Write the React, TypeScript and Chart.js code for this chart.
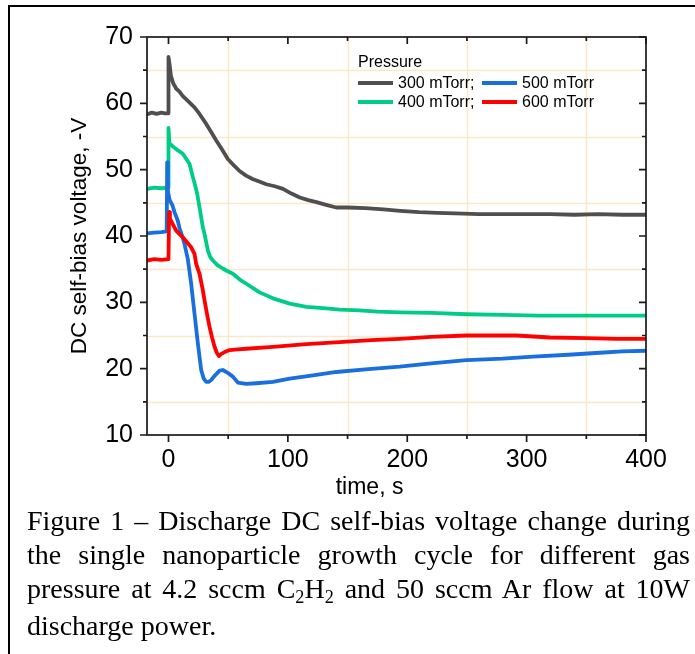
import React, { useEffect, useRef } from "react";
import { Chart, registerables } from "chart.js";

Chart.register(...registerables);

const seriesLabels = ["300 mTorr;", "400 mTorr;", "500 mTorr", "600 mTorr"];
const seriesColors = ["#4f4f4f", "#00cc88", "#1a6fdf", "#ff0000"];

const t300 = [-18, -14, -10, -6, -3, -0.3, 0, 0.8, 2, 4, 6.5, 9, 12, 16, 21.8, 26, 31.6, 36, 40, 45, 49.7, 55, 59.5, 65, 70.4, 76, 81.9, 89, 95.9, 103, 110, 117, 124, 132, 140.6, 150, 165, 180, 194, 210, 225, 240, 260, 280, 300, 320, 340, 360, 380, 400];
const v300 = [58.3, 58.6, 58.4, 58.6, 58.5, 58.5, 67.0, 66.0, 64.2, 63.0, 62.2, 61.8, 61.1, 60.4, 59.4, 58.4, 56.9, 55.6, 54.4, 53.0, 51.6, 50.6, 49.8, 49.1, 48.6, 48.2, 47.8, 47.5, 47.1, 46.4, 45.8, 45.4, 45.1, 44.7, 44.3, 44.3, 44.2, 44.0, 43.8, 43.6, 43.5, 43.4, 43.3, 43.3, 43.3, 43.3, 43.2, 43.3, 43.2, 43.2];

const t400 = [-18, -12, -6, -0.3, 0, 0.8, 3, 6.4, 12, 17.6, 20.4, 21.8, 24, 26, 28.8, 30.2, 33, 35, 37.2, 41, 45.5, 48.4, 53.9, 60, 65.2, 76.3, 87.5, 101.5, 115.5, 132.2, 143.4, 160, 175, 193.7, 220, 249.6, 280, 310, 340, 370, 400];
const v400 = [47.1, 47.3, 47.2, 47.3, 56.3, 54.0, 53.6, 53.1, 52.4, 50.9, 48.9, 48.0, 46.4, 44.3, 41.3, 40.3, 37.8, 36.8, 36.3, 35.6, 35.1, 34.8, 34.3, 33.4, 32.8, 31.5, 30.6, 29.8, 29.3, 29.1, 28.9, 28.8, 28.6, 28.5, 28.4, 28.2, 28.1, 28.0, 28.0, 28.0, 28.0];

const t500 = [-18, -12, -6, -1.5, -1.1, -0.5, 0.8, 3.6, 5, 7.8, 9.2, 11.5, 13.4, 16.2, 19, 21.8, 24.6, 27.4, 29.5, 31.6, 33.5, 35.8, 39, 42.8, 45.5, 48.4, 51, 53.9, 58.1, 65, 73.5, 87.5, 101.5, 121, 140.6, 165, 193.7, 220, 249.6, 280, 305.5, 335, 361.4, 380, 400];
const v500 = [40.4, 40.5, 40.6, 40.7, 51.1, 46.8, 45.5, 44.5, 43.6, 42.3, 41.2, 40.0, 38.8, 36.5, 32.8, 28.3, 23.8, 19.8, 18.5, 18.0, 18.0, 18.3, 19.0, 19.7, 19.8, 19.5, 19.2, 18.8, 17.9, 17.7, 17.8, 18.0, 18.5, 19.0, 19.5, 19.9, 20.3, 20.8, 21.3, 21.5, 21.8, 22.1, 22.4, 22.6, 22.7];

const t600 = [-18, -12, -6, 0, 0.5, 1.2, 3.6, 6.4, 12, 19, 21.8, 23.2, 26, 28.8, 30.2, 32.3, 34.4, 36.5, 38.6, 40.5, 42.2, 44, 47, 51.2, 58, 65.2, 87.5, 115.5, 143.4, 170, 193.7, 220, 249.6, 270, 291.6, 319.5, 350, 375, 400];
const v600 = [36.3, 36.5, 36.4, 36.5, 43.6, 42.6, 41.8, 40.8, 39.8, 38.3, 37.3, 35.8, 34.3, 31.8, 30.3, 28.2, 26.3, 24.7, 23.3, 22.4, 21.9, 22.2, 22.5, 22.8, 22.9, 23.0, 23.3, 23.7, 24.0, 24.3, 24.5, 24.8, 25.0, 25.0, 25.0, 24.7, 24.6, 24.5, 24.5];

const xMajorTicks = [0, 100, 200, 300, 400];
const xMinorTicks = [50, 150, 250, 350];
const yMajorTicks = [10, 20, 30, 40, 50, 60, 70];
const yMinorTicks = [15, 25, 35, 45, 55, 65];
const xRange = [-18, 400];
const yRange = [10, 70];
const xTitle = "time, s";
const yTitle = "DC self-bias voltage, -V";
const legendTitle = "Pressure";

const SANS = 'Arial, "Liberation Sans", sans-serif';
const GRID = "#fbe8c8";

const pts = (t: number[], v: number[]) => t.map((x, i) => ({ x, y: v[i] }));

const framePlugin = {
  id: "frameTicksLegend",
  beforeDatasetsDraw(chart: any) {
    const { ctx, chartArea: a, scales } = chart;
    const x = scales.x, y = scales.y;
    ctx.save();
    ctx.strokeStyle = GRID;
    ctx.lineWidth = 1.5;
    ctx.beginPath();
    for (const v of xMinorTicks) {
      const px = Math.round(x.getPixelForValue(v)) + 0.5;
      ctx.moveTo(px, a.top);
      ctx.lineTo(px, a.bottom);
    }
    for (const v of yMinorTicks) {
      const py = Math.round(y.getPixelForValue(v)) + 0.5;
      ctx.moveTo(a.left, py);
      ctx.lineTo(a.right, py);
    }
    ctx.stroke();
    ctx.restore();
  },
  afterDatasetsDraw(chart: any) {
    const { ctx, chartArea: a, scales } = chart;
    const x = scales.x, y = scales.y;
    ctx.save();
    ctx.strokeStyle = "#1a1a1a";
    ctx.lineWidth = 1.7;
    ctx.strokeRect(a.left, a.top, a.right - a.left, a.bottom - a.top);
    ctx.beginPath();
    const MAJ = 7, MIN = 4;
    for (const v of xMajorTicks) {
      const px = x.getPixelForValue(v);
      ctx.moveTo(px, a.bottom); ctx.lineTo(px, a.bottom + MAJ);
      ctx.moveTo(px, a.top); ctx.lineTo(px, a.top + MAJ);
    }
    for (const v of xMinorTicks) {
      const px = x.getPixelForValue(v);
      ctx.moveTo(px, a.bottom); ctx.lineTo(px, a.bottom + MIN);
      ctx.moveTo(px, a.top); ctx.lineTo(px, a.top + MIN);
    }
    for (const v of yMajorTicks) {
      const py = y.getPixelForValue(v);
      ctx.moveTo(a.left, py); ctx.lineTo(a.left - MAJ, py);
      ctx.moveTo(a.right, py); ctx.lineTo(a.right - MAJ, py);
    }
    for (const v of yMinorTicks) {
      const py = y.getPixelForValue(v);
      ctx.moveTo(a.left, py); ctx.lineTo(a.left - MIN, py);
      ctx.moveTo(a.right, py); ctx.lineTo(a.right - MIN, py);
    }
    ctx.stroke();

    // x-axis title (placed as in the original figure, left of centre)
    ctx.fillStyle = "#000";
    ctx.font = `23px ${SANS}`;
    ctx.textAlign = "center";
    ctx.textBaseline = "middle";
    ctx.fillText(xTitle, a.left + (a.right - a.left) * 0.446, a.bottom + 53);

    // legend
    const lx = a.left + 211;
    const ly = a.top + 26;
    ctx.font = `16px ${SANS}`;
    ctx.textBaseline = "middle";
    ctx.textAlign = "left";
    ctx.fillText(legendTitle, lx, ly);
    const order = [0, 2, 1, 3];
    order.forEach((di, k) => {
      const col = k % 2;
      const row = Math.floor(k / 2);
      const x0 = lx + col * 124;
      const y0 = ly + 20 + row * 19;
      ctx.strokeStyle = seriesColors[di];
      ctx.lineWidth = 4;
      ctx.beginPath();
      ctx.moveTo(x0, y0);
      ctx.lineTo(x0 + 35, y0);
      ctx.stroke();
      ctx.fillStyle = "#000";
      ctx.fillText(seriesLabels[di], x0 + 40, y0 + 1);
    });
    ctx.restore();
  },
};

function ChartView() {
  const ref = useRef<HTMLCanvasElement | null>(null);
  useEffect(() => {
    if (!ref.current) return;
    const tArr = [t300, t400, t500, t600];
    const vArr = [v300, v400, v500, v600];
    const drawOrder = [3, 2, 1, 0];
    const chart = new Chart(ref.current, {
      type: "line",
      data: {
        datasets: seriesLabels.map((label, i) => ({
          label,
          data: pts(tArr[i], vArr[i]),
          borderColor: seriesColors[i],
          backgroundColor: seriesColors[i],
          borderWidth: 3.8,
          pointRadius: 0,
          tension: 0,
          fill: false,
          order: drawOrder[i],
          borderJoinStyle: "round" as const,
        })),
      },
      options: {
        animation: false,
        responsive: false,
        devicePixelRatio: 1,
        layout: { padding: { left: 0, right: 49, top: 37, bottom: 0 } },
        plugins: { legend: { display: false }, tooltip: { enabled: false } },
        scales: {
          x: {
            type: "linear",
            min: xRange[0],
            max: xRange[1],
            afterBuildTicks: (s: any) => { s.ticks = xMajorTicks.map((v) => ({ value: v })); },
            afterFit: (s: any) => { s.height = 85; },
            grid: { display: false, drawTicks: false, tickLength: 0 },
            border: { display: false },
            ticks: { padding: 10, color: "#000", font: { family: SANS, size: 25 }, maxRotation: 0, autoSkip: false },
            title: { display: false, text: xTitle },
          },
          y: {
            type: "linear",
            min: yRange[0],
            max: yRange[1],
            afterBuildTicks: (s: any) => { s.ticks = yMajorTicks.map((v) => ({ value: v })); },
            afterFit: (s: any) => { s.width = 147; },
            grid: { display: false, drawTicks: false, tickLength: 0 },
            border: { display: false },
            ticks: { padding: 14, color: "#000", font: { family: SANS, size: 25 }, autoSkip: false },
            title: { display: true, text: yTitle, color: "#000", font: { family: SANS, size: 22.5 }, padding: { top: 66, bottom: 0 } },
          },
        },
      },
      plugins: [framePlugin],
    });
    return () => chart.destroy();
  }, []);
  return <canvas ref={ref} width={695} height={520} style={{ position: "absolute", left: 0, top: 0, width: 695, height: 520 }} />;
}

export default function App() {
  return (
    <div style={{ position: "absolute", left: 0, top: 0, width: 695, height: 654, overflow: "hidden", background: "#fff" }}>
      <div style={{ position: "absolute", left: 8, top: 5, width: 800, height: 800, borderLeft: "2px solid #000", borderTop: "2px solid #000" }} />
      <ChartView />
      <div
        style={{
          position: "absolute",
          left: 27,
          top: 504,
          width: 663,
          fontFamily: '"Times New Roman", "Liberation Serif", serif',
          fontSize: 28,
          lineHeight: "34px",
          textAlign: "justify",
          color: "#000",
        }}
      >
        Figure 1 – Discharge DC self-bias voltage change during the single nanoparticle growth cycle for different gas pressure at 4.2 sccm C
        <sub style={{ fontSize: "0.65em", verticalAlign: "baseline", position: "relative", top: "0.25em" }}>2</sub>H
        <sub style={{ fontSize: "0.65em", verticalAlign: "baseline", position: "relative", top: "0.25em" }}>2</sub> and 50 sccm Ar flow at 10W discharge power.
      </div>
    </div>
  );
}
